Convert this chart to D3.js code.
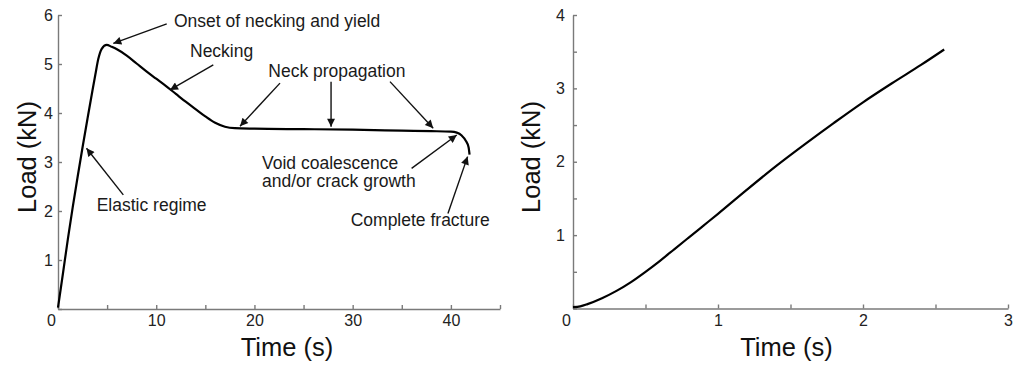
<!DOCTYPE html>
<html>
<head>
<meta charset="utf-8">
<script src="https://cdn.jsdelivr.net/npm/d3@7"></script>
<style>
  body { margin: 0; background: #fff; }
  svg { display: block; font-family: Arial, "Liberation Sans", sans-serif; }
  .axis path, .axis line { stroke: #7a7a7a; stroke-width: 1.4; }
  .axis text { fill: #222; font-size: 16px; font-family: Arial, "Liberation Sans", sans-serif; }
</style>
</head>
<body>
<div id="chart"></div>
<script>
// tensile test (left)
const tensileTime = [0, 0.5, 1, 1.5, 2, 2.5, 3, 3.5, 3.8, 4.1, 4.45, 4.96, 5.47, 6, 7, 8, 9, 10, 11, 12, 13, 14, 15, 16, 17, 18, 20, 25, 30, 35, 38, 40, 40.6, 41.1, 41.5, 41.8, 41.9];
const tensileLoad = [0.03, 0.72, 1.42, 2.08, 2.7, 3.3, 3.88, 4.45, 4.78, 5.1, 5.31, 5.39, 5.35, 5.30, 5.17, 5.01, 4.85, 4.70, 4.55, 4.39, 4.23, 4.08, 3.93, 3.80, 3.72, 3.69, 3.68, 3.67, 3.66, 3.64, 3.63, 3.62, 3.6, 3.54, 3.44, 3.3, 3.15];

// second test (right)
const rightTime = [0, 0.05, 0.1, 0.2, 0.3, 0.4, 0.5, 0.6, 0.7, 0.8, 0.9, 1.0, 1.2, 1.4, 1.6, 1.8, 2.0, 2.2, 2.4, 2.56];
const rightLoad = [0.02, 0.03, 0.06, 0.14, 0.24, 0.36, 0.5, 0.65, 0.81, 0.97, 1.13, 1.29, 1.62, 1.94, 2.24, 2.53, 2.81, 3.07, 3.32, 3.53];

const leftXTicks = [0, 5, 10, 15, 20, 25, 30, 35, 40, 45];
const leftXLabels = [0, 10, 20, 30, 40];
const leftYTicks = [0, 1, 2, 3, 4, 5, 6];
const rightXTicks = [0, 0.5, 1, 1.5, 2, 2.5, 3];
const rightXLabels = [0, 1, 2, 3];
const rightYTicks = [0, 0.5, 1, 1.5, 2, 2.5, 3, 3.5, 4];
const rightYLabels = [1, 2, 3, 4];

// annotations in data units: text lines and arrows
const noteTexts = [
  {t: 11.81, v: 5.76, text: 'Onset of necking and yield'},
  {t: 13.44, v: 5.14, text: 'Necking'},
  {t: 21.41, v: 4.73, text: 'Neck propagation'},
  {t: 20.77, v: 2.86, text: 'Void coalescence'},
  {t: 20.77, v: 2.48, text: 'and/or crack growth'},
  {t: 3.94, v: 1.99, text: 'Elastic regime'},
  {t: 29.8, v: 1.70, text: 'Complete fracture'}
];
const noteArrows = [
  [11.07, 5.82, 5.63, 5.42],
  [15.81, 4.98, 11.40, 4.47],
  [22.6, 4.61, 18.53, 3.73],
  [27.8, 4.64, 27.8, 3.72],
  [33.8, 4.64, 38.2, 3.69],
  [36.0, 2.87, 40.6, 3.55],
  [39.7, 1.95, 41.7, 3.11],
  [6.65, 2.33, 2.9, 3.28]
];

const svg = d3.select('#chart').append('svg')
  .attr('width', 1021)
  .attr('height', 371);

svg.append('defs').append('marker')
  .attr('id', 'head')
  .attr('viewBox', '0 0 10 10')
  .attr('refX', 10).attr('refY', 5)
  .attr('markerUnits', 'userSpaceOnUse')
  .attr('markerWidth', 10).attr('markerHeight', 8)
  .attr('orient', 'auto')
  .append('path')
    .attr('d', 'M0,0 L10,5 L0,10 Z')
    .attr('fill', '#111');

function drawPanel(opt) {
  const x = d3.scaleLinear().domain(opt.xDomain).range(opt.xRange);
  const y = d3.scaleLinear().domain(opt.yDomain).range(opt.yRange);

  const xAxis = svg.append('g')
    .attr('class', 'axis')
    .attr('transform', `translate(0, ${opt.yRange[0]})`)
    .call(d3.axisBottom(x).tickValues(opt.xTicks).tickSizeInner(-4).tickSizeOuter(0).tickPadding(6)
      .tickFormat(d => opt.xLabels.includes(d) ? d3.format('d')(d) : ''));
  xAxis.selectAll('.tick text').filter(d => d === 0).attr('dx', -7);

  svg.append('g')
    .attr('class', 'axis')
    .attr('transform', `translate(${opt.xRange[0]}, 0)`)
    .call(d3.axisLeft(y).tickValues(opt.yTicks).tickSizeInner(-4).tickSizeOuter(0).tickPadding(opt.yPad)
      .tickFormat(d => opt.yLabels.includes(d) ? d3.format('d')(d) : ''));

  const line = d3.line()
    .x(d => x(d[0]))
    .y(d => y(d[1]))
    .curve(d3.curveMonotoneX);

  svg.append('path')
    .datum(d3.zip(opt.time, opt.load))
    .attr('fill', 'none')
    .attr('stroke', '#000')
    .attr('stroke-width', 2.2)
    .attr('stroke-linejoin', 'round')
    .attr('d', line);

  const midX = (opt.xRange[0] + opt.xRange[1]) / 2;
  svg.append('text')
    .attr('x', midX + opt.xTitleShift)
    .attr('y', 356)
    .attr('text-anchor', 'middle')
    .attr('font-size', 25.5)
    .attr('fill', '#111')
    .text('Time (s)');

  svg.append('text')
    .attr('transform', `translate(${opt.yTitleX}, 157) rotate(-90)`)
    .attr('text-anchor', 'middle')
    .attr('font-size', 25.5)
    .attr('fill', '#111')
    .text('Load (kN)');

  return {x, y};
}

const left = drawPanel({
  xDomain: [0, 45], xRange: [58, 500],
  yDomain: [0, 6], yRange: [309, 15],
  xTicks: leftXTicks, xLabels: leftXLabels,
  yTicks: leftYTicks, yLabels: leftYTicks.filter(d => d !== 0), yPad: 5,
  time: tensileTime, load: tensileLoad,
  xTitleShift: 8, yTitleX: 36
});

drawPanel({
  xDomain: [0, 3], xRange: [573, 1008],
  yDomain: [0, 4], yRange: [308.5, 15],
  xTicks: rightXTicks, xLabels: rightXLabels,
  yTicks: rightYTicks, yLabels: rightYLabels, yPad: 8,
  time: rightTime, load: rightLoad,
  xTitleShift: -4, yTitleX: 540
});

// annotations
svg.append('g').selectAll('line')
  .data(noteArrows)
  .join('line')
    .attr('x1', d => left.x(d[0]))
    .attr('y1', d => left.y(d[1]))
    .attr('x2', d => left.x(d[2]))
    .attr('y2', d => left.y(d[3]))
    .attr('stroke', '#111')
    .attr('stroke-width', 1.4)
    .attr('marker-end', 'url(#head)');

svg.append('g').selectAll('text')
  .data(noteTexts)
  .join('text')
    .attr('x', d => left.x(d.t))
    .attr('y', d => left.y(d.v))
    .attr('font-size', 17.5)
    .attr('fill', '#1a1a1a')
    .text(d => d.text);
</script>
</body>
</html>
